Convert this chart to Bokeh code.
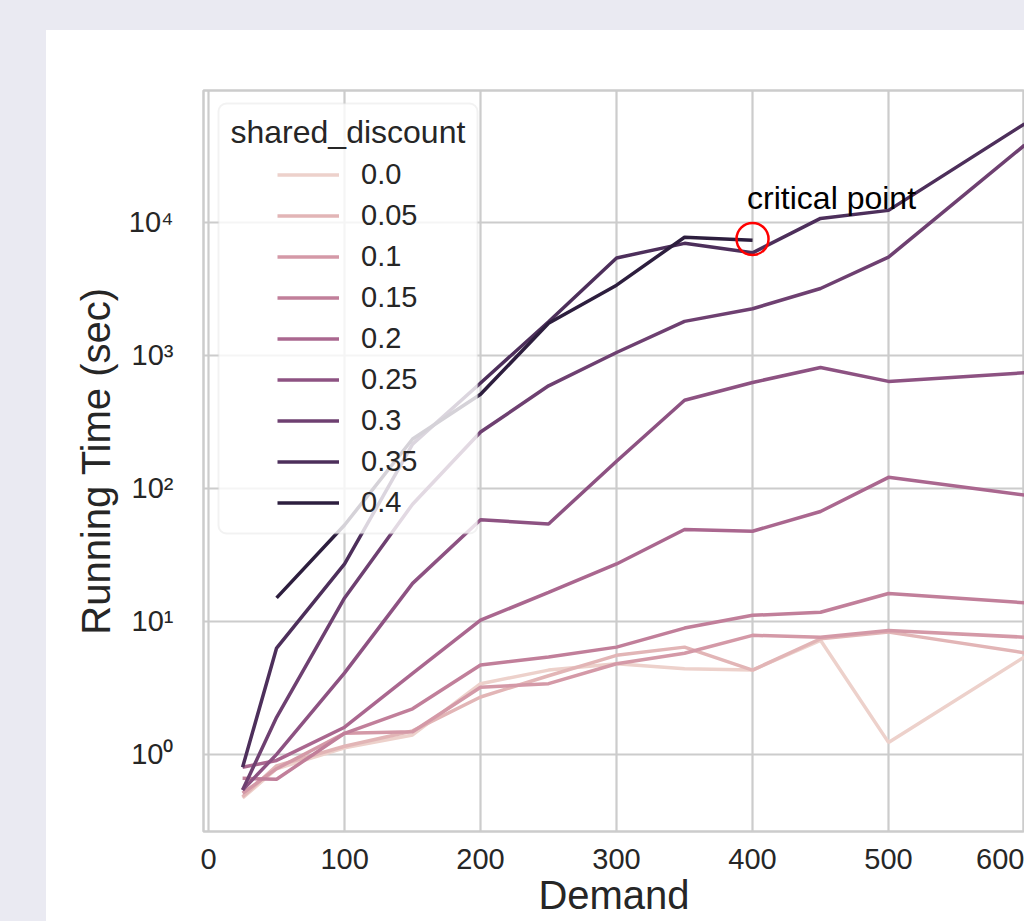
import numpy as np
from bokeh.plotting import figure
from bokeh.models import (ColumnDataSource, Legend, LegendItem, Label, BoxAnnotation,
                          FixedTicker, CustomJSTickFormatter, Spacer, Range1d)
from bokeh.layouts import column, row
from bokeh.core.properties import value
from bokeh.embed import file_html
from bokeh.resources import INLINE

# ---------------- data ----------------
demand = [25, 50, 100, 150, 200, 250, 300, 350, 400, 450, 500, 600]
discounts = ["0.0", "0.05", "0.1", "0.15", "0.2", "0.25", "0.3", "0.35", "0.4"]
discount_values = [0.0, 0.05, 0.1, 0.15, 0.2, 0.25, 0.3, 0.35, 0.4]

t_00 = [0.47, 0.78, 1.12, 1.40, 3.4, 4.3, 4.8, 4.4, 4.3, 7.2, 1.23, 5.4]
t_05 = [0.48, 0.82, 1.15, 1.50, 2.7, 3.9, 5.55, 6.4, 4.3, 7.4, 8.3, 5.8]
t_10 = [0.51, 0.78, 1.44, 1.48, 3.2, 3.4, 4.8, 5.75, 7.85, 7.6, 8.55, 7.6]
t_15 = [0.66, 0.65, 1.44, 2.2, 4.7, 5.4, 6.4, 8.9, 11.1, 11.7, 16.2, 13.8]
t_20 = [0.80, 0.90, 1.6, 4.06, 10.2, 16.5, 27, 49, 47.6, 67, 121, 89]
t_25 = [0.54, 1.0, 4.1, 19.3, 58, 54, 160, 460, 625, 810, 637, 740]
t_30 = [0.54, 1.9, 15, 76, 265, 590, 1050, 1800, 2240, 3180, 5470, 38000]
t_35 = [0.80, 6.3, 27, 215, 620, 1790, 5400, 6950, 5900, 10700, 12300, 55000]
t_40 = [None, 15, 53, 235, 510, 1740, 3370, 7730, 7330, None, None, None]
series = [t_00, t_05, t_10, t_15, t_20, t_25, t_30, t_35, t_40]

x_ticks = [0, 100, 200, 300, 400, 500, 600]
y_ticks = [1, 10, 100, 1000, 10000]

annot_text = "critical point"
annot_point_x = 400
annot_point_y = 7500
annot_text_x = 396
annot_text_y = 15200

FONT = "Liberation Sans"
TXT = "#262626"
GRID = "#CCCCCC"


def cubehelix(t, start=0.0, rot=0.4, gamma=1.0, hue=0.8, light=0.85, dark=0.15):
    x = light + (dark - light) * t
    xg = x ** gamma
    a = hue * xg * (1 - xg) / 2
    phi = 2 * np.pi * (start / 3 + rot * x)
    r = xg + a * (-0.14861 * np.cos(phi) + 1.78277 * np.sin(phi))
    g = xg + a * (-0.29227 * np.cos(phi) - 0.90649 * np.sin(phi))
    b = xg + a * (1.97294 * np.cos(phi))
    rgb = [int(round(255 * min(max(c, 0.0), 1.0))) for c in (r, g, b)]
    return "#%02x%02x%02x" % tuple(rgb)


vmin, vmax = min(discount_values), max(discount_values)
colors = [cubehelix((v - vmin) / (vmax - vmin)) for v in discount_values]

# ---------------- figure ----------------
p = figure(width=978, height=891, y_axis_type="log",
           x_range=Range1d(-3.75, 600), y_range=Range1d(0.263, 98000),
           output_backend="svg", toolbar_location=None,
           min_border_left=157, min_border_right=0, min_border_top=60, min_border_bottom=90,
           background_fill_color="white", border_fill_color="white")

p.outline_line_color = GRID
p.outline_line_width = 2.5

p.xgrid.grid_line_color = GRID
p.ygrid.grid_line_color = GRID
p.xgrid.grid_line_width = 2.2
p.ygrid.grid_line_width = 2.2

p.xaxis.ticker = FixedTicker(ticks=x_ticks)
p.yaxis.ticker = FixedTicker(ticks=y_ticks)
p.yaxis.formatter = CustomJSTickFormatter(code="""
const sup = {"-":"\u207b","0":"\u2070","1":"\u00b9","2":"\u00b2","3":"\u00b3","4":"\u2074",
             "5":"\u2075","6":"\u2076","7":"\u2077","8":"\u2078","9":"\u2079"};
const e = Math.round(Math.log10(tick));
return "10" + String(e).split("").map(c => sup[c]).join("");
""")

for ax in (p.xaxis[0], p.yaxis[0]):
    ax.axis_line_color = None
    ax.major_tick_line_color = None
    ax.minor_tick_line_color = None
    ax.major_tick_out = 0
    ax.major_tick_in = 0
    ax.major_label_text_font = FONT
    ax.major_label_text_font_size = "29px"
    ax.major_label_text_color = TXT
    ax.axis_label_text_font = FONT
    ax.axis_label_text_font_size = "40px"
    ax.axis_label_text_font_style = "normal"
    ax.axis_label_text_color = TXT

p.xaxis.major_label_standoff = 17
p.yaxis.major_label_standoff = 30
p.yaxis.axis_label = "Running Time (sec)"
p.yaxis.axis_label_standoff = 8
p.xaxis.axis_label = "Demand"
p.xaxis.axis_label_standoff = 1

# ---------------- lines ----------------
renderers = []
for vals, col in zip(series, colors):
    xs = [d for d, v in zip(demand, vals) if v is not None]
    ys = [v for v in vals if v is not None]
    src = ColumnDataSource(dict(x=xs, y=ys))
    r = p.line("x", "y", source=src, line_color=col, line_width=3.5)
    renderers.append(r)

# ---------------- annotation ----------------
p.scatter(x=[annot_point_x], y=[annot_point_y], size=32, marker="circle",
          fill_color=None, line_color="red", line_width=2.5)
p.text(x=[annot_text_x], y=[annot_text_y], text=[annot_text],
       text_font=value(FONT), text_font_size="32px", text_baseline="alphabetic",
       text_align="left", text_color="black")

# ---------------- legend ----------------
legend_box = BoxAnnotation(left=15, right=274, top=728, bottom=298,
                           left_units="screen", right_units="screen",
                           top_units="screen", bottom_units="screen",
                           fill_color="white", fill_alpha=0.8,
                           line_color="#D5D5D5", line_width=2, border_radius=8)
p.add_layout(legend_box)

legend_title = Label(x=27, y=700, x_units="screen", y_units="screen",
                     text="shared_discount", text_font=FONT, text_font_size="32px",
                     text_baseline="middle", text_color=TXT)
p.add_layout(legend_title)

legend = Legend(items=[LegendItem(label=value(lbl), renderers=[r]) for lbl, r in zip(discounts, renderers)],
                location=(74, 308), padding=0, margin=0, spacing=0,
                glyph_width=62, glyph_height=41, label_height=41, label_standoff=22,
                label_text_font=FONT, label_text_font_size="29px", label_text_color=TXT,
                border_line_color=None, background_fill_alpha=0)
p.add_layout(legend)

# ---------------- page layout ----------------
BG = "#EAEAF2"
top_strip = Spacer(width=1024, height=30, styles={"background-color": BG})
left_strip = Spacer(width=46, height=891, styles={"background-color": BG})
layout = column(top_strip, row(left_strip, p, spacing=0), spacing=0)

open("out.html", "w").write(file_html(layout, INLINE))
